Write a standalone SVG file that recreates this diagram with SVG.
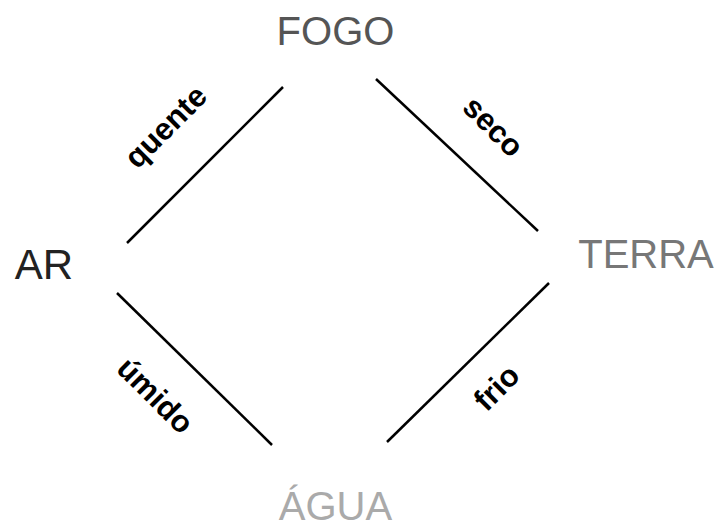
<svg xmlns="http://www.w3.org/2000/svg" width="720" height="527" viewBox="0 0 720 527">
  <style>
    .element { font-family: "Liberation Sans", Arial, sans-serif; font-size: 40px; text-anchor: middle; }
    .quality { font-family: "Liberation Sans", Arial, sans-serif; font-size: 31px; font-weight: bold; text-anchor: middle; fill: #000; }
    .edge { stroke: #000; stroke-width: 2.5; fill: none; }
  </style>
  <rect width="720" height="527" fill="#fff"/>

  <g id="connectors">
    <line class="edge" x1="127" y1="243" x2="283" y2="87"/>
    <line class="edge" x1="376" y1="79" x2="538" y2="231"/>
    <line class="edge" x1="117" y1="293" x2="272" y2="445"/>
    <line class="edge" x1="549" y1="283" x2="387" y2="442"/>
    <text class="quality" transform="translate(166,127) rotate(-45)" y="10">quente</text>
    <text class="quality" transform="translate(493,127) rotate(45)" y="10">seco</text>
    <text class="quality" transform="translate(155,396) rotate(45)" y="10">úmido</text>
    <text class="quality" transform="translate(497,388) rotate(-45)" y="10">frio</text>
  </g>

  <g id="fogo"><text class="element" x="335.5" y="45" fill="#555555">FOGO</text></g>
  <g id="terra"><text class="element" x="646" y="268" fill="#777777">TERRA</text></g>
  <g id="agua"><text class="element" x="335.5" y="520" fill="#aaaaaa">ÁGUA</text></g>
  <g id="ar"><text class="element" x="44" y="279" fill="#222222" style="font-size:42px">AR</text></g>
</svg>
